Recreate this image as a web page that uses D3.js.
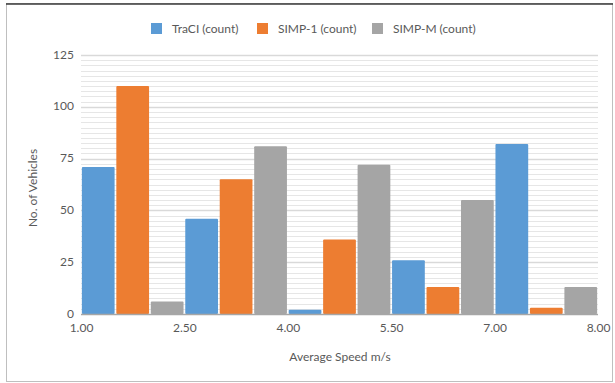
<!DOCTYPE html>
<html><head><meta charset="utf-8">
<script src="https://cdn.jsdelivr.net/npm/d3@7"></script>
<style>
body{margin:0;background:#fff;}
text{font-family:Lato,"Open Sans",sans-serif;fill:#595959;}
</style></head>
<body><svg id="c" width="615" height="383"></svg>
<script>
const bins = ["b1","b2","b3","b4","b5"];
const edgeLabels = ["1.00","2.50","4.00","5.50","7.00","8.00"];
const seriesNames = ["TraCI (count)","SIMP-1 (count)","SIMP-M (count)"];
const traci = [71,46,2,26,82];
const simp1 = [110,65,36,13,3];
const simpM = [6,81,72,55,13];
const yTicks = [0,25,50,75,100,125];
const colors = ["#5B9BD5","#ED7D31","#A5A5A5"];

const svg = d3.select("#c");
const m={l:81,r:598,t:55,b:314};

svg.append("rect").attr("x",6.5).attr("y",3.5).attr("width",606).attr("height",378)
  .attr("fill","#fff").attr("stroke","#bfbfbf");
svg.append("line").attr("x1",6).attr("x2",613).attr("y1",4).attr("y2",4).attr("stroke","#3a3a3a").attr("stroke-width",1.5);

const x = d3.scaleBand().domain(bins).range([m.l,m.r]).padding(0);
const xs = d3.scaleBand().domain(seriesNames).range([0,x.bandwidth()]).paddingInner(0.05).paddingOuter(0.025);
const xe = d3.scalePoint().domain(edgeLabels).range([m.l,m.r]);
const y = d3.scaleLinear().domain([0,125]).range([m.b,m.t]);

const minor = d3.range(0,125.01,2.5).filter(v=>v%25!==0);
svg.append("g").selectAll("line").data(minor).join("line")
  .attr("x1",m.l).attr("x2",m.r)
  .attr("y1",d=>Math.round(y(d))+0.5).attr("y2",d=>Math.round(y(d))+0.5)
  .attr("stroke","#e6e6e6").attr("stroke-width",1);
svg.append("g").selectAll("line").data(yTicks.filter(v=>v>0)).join("line")
  .attr("x1",m.l).attr("x2",m.r)
  .attr("y1",d=>Math.round(y(d))+0.5).attr("y2",d=>Math.round(y(d))+0.5)
  .attr("stroke","#d9d9d9").attr("stroke-width",1.5);

const data = [traci,simp1,simpM];
const g = svg.append("g");
seriesNames.forEach((s,si)=>{
  g.append("g").selectAll("rect").data(bins.map((b,i)=>({b,v:data[si][i]}))).join("rect")
    .attr("x",d=>x(d.b)+xs(s))
    .attr("width",xs.bandwidth())
    .attr("y",d=>y(d.v))
    .attr("height",d=>y(0)-y(d.v))
    .attr("rx",1)
    .attr("fill",colors[si]);
});

svg.append("line").attr("x1",m.l).attr("x2",m.r).attr("y1",y(0)+0.5).attr("y2",y(0)+0.5)
  .attr("stroke","#a6a6a6").attr("stroke-width",1.5);

const ya = d3.axisLeft(y).tickValues(yTicks).tickSize(0).tickPadding(7);
const yg = svg.append("g").attr("transform",`translate(${m.l},0)`).call(ya);
yg.select(".domain").remove();
yg.selectAll("text").style("font-size","12px").attr("fill","#595959").attr("dy","0.25em");

const xa = d3.axisBottom(xe).tickSize(0).tickPadding(8);
const xg = svg.append("g").attr("transform",`translate(0,${m.b})`).call(xa);
xg.select(".domain").remove();
xg.selectAll("text").style("font-size","12px").attr("fill","#595959").attr("dy","0.8em");

svg.append("text").attr("transform","translate(37,188) rotate(-90)").attr("text-anchor","middle")
  .style("font-size","12px").text("No. of Vehicles");
svg.append("text").attr("x",340).attr("y",361).attr("text-anchor","middle")
  .style("font-size","12px").text("Average Speed m/s");

const legX=[151,257,372];
const lg = svg.append("g");
seriesNames.forEach((s,i)=>{
  lg.append("rect").attr("x",legX[i]).attr("y",23).attr("width",11).attr("height",11).attr("fill",colors[i]);
  lg.append("text").attr("x",legX[i]+21).attr("y",33).style("font-size","12px").text(s);
});
</script></body></html>
